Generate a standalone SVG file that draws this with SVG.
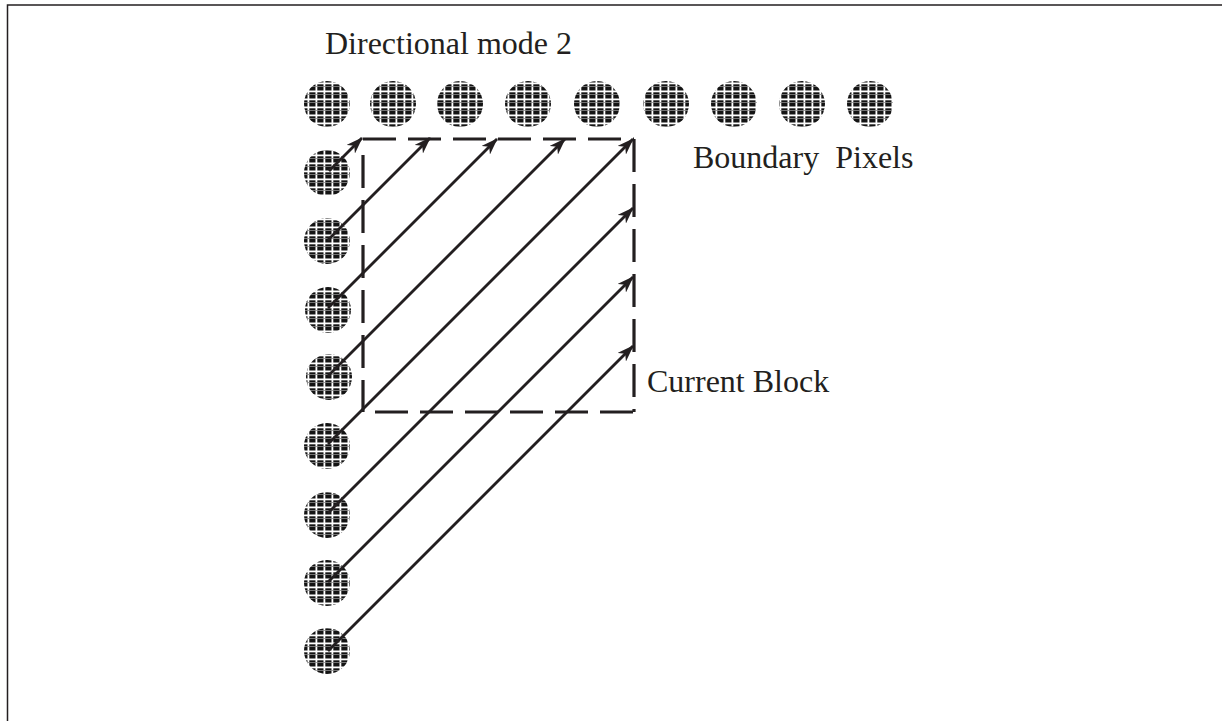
<svg xmlns="http://www.w3.org/2000/svg" width="1222" height="721" viewBox="0 0 1222 721">
<defs>
<style>
.lbl{font-family:"Liberation Serif","Times New Roman",serif;font-size:32px;fill:#231f20}
.px{fill:url(#hatch)}
.arr{stroke:#231f20;stroke-width:2.8;fill:none;marker-end:url(#ah)}
.dash{stroke:#231f20;stroke-width:3.2;fill:none;stroke-dasharray:33 12}
</style>
<pattern id="hatch" width="8" height="8" patternUnits="userSpaceOnUse">
<rect width="8" height="8" fill="#141414"/>
<rect x="0" y="2.5" width="8" height="1.8" fill="#ffffff"/>
<rect x="3.5" y="0" width="1.8" height="8" fill="#ffffff"/>
<rect x="0" y="6" width="8" height="0.8" fill="#8c8c8c"/>
</pattern>
<marker id="ah" markerWidth="17" markerHeight="12" refX="16" refY="6" orient="auto" markerUnits="userSpaceOnUse">
<path d="M0,0 L17,6 L0,12 L5,6 z" fill="#231f20"/>
</marker>
</defs>
<rect width="1222" height="721" fill="#ffffff"/>
<path d="M7.5,721 L7.5,5 L1222,5" fill="none" stroke="#231f20" stroke-width="1.5"/>
<g id="title"><text class="lbl" x="325" y="54">Directional mode 2</text></g>
<g id="top-pixels">
<circle class="px" cx="327" cy="104" r="23"/>
<circle class="px" cx="393" cy="104" r="23"/>
<circle class="px" cx="460" cy="104" r="23"/>
<circle class="px" cx="528" cy="104" r="23"/>
<circle class="px" cx="597" cy="104" r="23"/>
<circle class="px" cx="666" cy="104" r="23"/>
<circle class="px" cx="734" cy="104" r="23"/>
<circle class="px" cx="802" cy="104" r="23"/>
<circle class="px" cx="870" cy="104" r="23"/>
</g>
<g id="left-pixels">
<circle class="px" cx="327" cy="173" r="23"/>
<circle class="px" cx="327" cy="241" r="23"/>
<circle class="px" cx="328" cy="310" r="23"/>
<circle class="px" cx="329" cy="377" r="23"/>
<circle class="px" cx="327" cy="446" r="23"/>
<circle class="px" cx="327" cy="515" r="23"/>
<circle class="px" cx="327" cy="583" r="23"/>
<circle class="px" cx="327" cy="651" r="23"/>
</g>
<g id="current-block">
<path class="dash" d="M363,139 L634,139"/>
<path class="dash" d="M634,139 L634,412"/>
<path class="dash" d="M375,412 L637,412"/>
<path class="dash" d="M363,155 L363,412"/>
</g>
<g id="boundary-label"><text class="lbl" x="693" y="168" xml:space="preserve">Boundary  Pixels</text></g>
<g id="block-label"><text class="lbl" x="647" y="392">Current Block</text></g>
<g id="connectors">
<path class="arr" d="M329,171 L362,138"/>
<path class="arr" d="M328,240 L430,138"/>
<path class="arr" d="M328,308 L497,139"/>
<path class="arr" d="M328,376 L565,139"/>
<path class="arr" d="M328,444 L633,139"/>
<path class="arr" d="M328,513 L633,208"/>
<path class="arr" d="M328,582 L633,277"/>
<path class="arr" d="M328,651 L633,346"/>
</g>
</svg>
